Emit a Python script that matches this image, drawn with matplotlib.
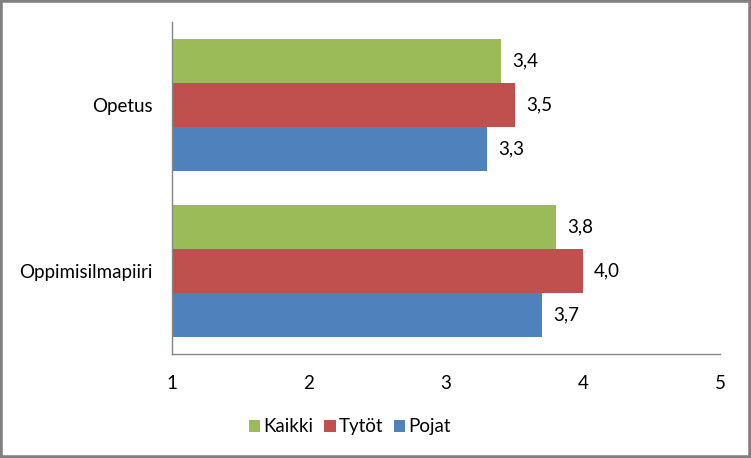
import matplotlib.pyplot as plt
from matplotlib.patches import Rectangle
import numpy as np

plt.rcParams["font.family"] = ["Lato", "DejaVu Sans"]

## Data
categories = ["Oppimisilmapiiri", "Opetus"]   # bottom to top
series = ["Kaikki", "Tytöt", "Pojat"]
kaikki = [3.8, 3.4]
tytot = [4.0, 3.5]
pojat = [3.7, 3.3]
colors = ["#9BBB59", "#C0504D", "#4F81BD"]

fig = plt.figure(figsize=(7.51, 4.58), dpi=100)
ax = fig.add_axes([0.229, 0.227, 0.730, 0.725])

y = np.arange(len(categories))
h = 0.265
offsets = [h, 0, -h]
fs = 13.5

for vals, name, col, off in zip([kaikki, tytot, pojat], series, colors, offsets):
    # bars start at the axis minimum (1)
    bars = ax.barh(y + off, np.array(vals) - 1, left=1, height=h, color=col, label=name)
    ax.bar_label(bars, labels=[f"{v:.1f}".replace(".", ",") for v in vals],
                 padding=8, fontsize=fs, color="black")

ax.set_xlim(1, 5)
ax.set_ylim(-0.5, 1.5)
ax.set_xticks([1, 2, 3, 4, 5])
ax.set_yticks(y)
ax.set_yticklabels(categories)
ax.tick_params(axis="both", length=0, labelsize=fs)
ax.tick_params(axis="x", pad=15)
ax.tick_params(axis="y", pad=14)

for s in ["top", "right"]:
    ax.spines[s].set_visible(False)
for s in ["left", "bottom"]:
    ax.spines[s].set_color("#868686")
    ax.spines[s].set_linewidth(1)

ax.legend(loc="center", bbox_to_anchor=(0.466, 0.068), bbox_transform=fig.transFigure,
          ncol=3, frameon=False, fontsize=fs, handlelength=0.6, handleheight=0.6,
          handletextpad=0.15, columnspacing=0.6)

fig.patches.append(Rectangle((0, 0), 1, 1, transform=fig.transFigure, fill=False,
                             edgecolor="#808080", linewidth=4))

fig.savefig("out.png", dpi=100)
